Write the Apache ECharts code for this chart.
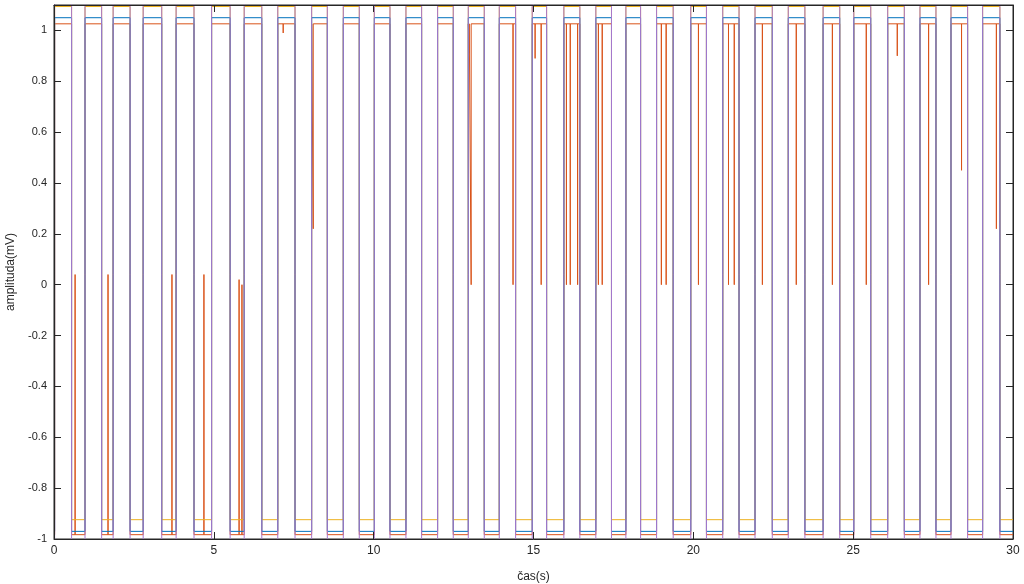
<!DOCTYPE html>
<html>
<head>
<meta charset="utf-8">
<script src="https://cdn.jsdelivr.net/npm/echarts@6/dist/echarts.min.js"></script>
<style>
html,body{margin:0;padding:0;background:#fff;}
#chart{width:1024px;height:584px;}
</style>
</head>
<body>
<div id="chart"></div>
<script>
// Pulse edges (s)
const riseTimes = [0.02, 0.97, 1.85, 2.79, 3.82, 4.93, 5.95, 7.00, 8.06, 9.05, 10.02, 11.01, 12.00, 12.96, 13.93, 14.96, 15.95, 16.95, 17.89, 18.85, 19.92, 20.92, 21.93, 22.97, 24.06, 25.02, 26.08, 27.09, 28.06, 29.05];
const fallTimes = [0.55, 1.49, 2.38, 3.37, 4.38, 5.51, 6.50, 7.54, 8.55, 9.55, 10.51, 11.50, 12.49, 13.46, 14.44, 15.41, 16.45, 17.44, 18.35, 19.37, 20.41, 21.43, 22.47, 23.49, 24.58, 25.55, 26.60, 27.59, 28.58, 29.59];
const endTime = 30;

// Levels (mV) for each signal: [high, low]
const yellowLevels = [1.094, -0.924];
const blueLevels = [1.05, -0.970];
const redLevels = [1.026, -0.983];
const purpleLevels = [1.12, -1.02];   // its flat parts lie at/outside the frame; only its edges show

// Red glitches: upward spikes during low phase
const redUpTimes = [0.66, 1.69, 3.69, 4.69, 5.79, 5.88];
const redUpValues = [0.04, 0.04, 0.04, 0.04, 0.02, 0.0];
// Red glitches: downward spikes during high phase
const redDownTimes = [7.17, 8.11, 12.99, 13.05, 14.36, 15.05, 15.24, 16.03, 16.15, 16.38, 17.03, 17.15, 19.00, 19.15, 20.16, 21.10, 21.28, 22.16, 23.22, 24.35, 25.41, 26.38, 27.36, 28.39, 29.48];
const redDownValues = [0.99, 0.22, 0.91, 0.0, 0.0, 0.89, 0.0, 0.0, 0.0, 0.0, 0.0, 0.0, 0.0, 0.0, 0.0, 0.0, 0.0, 0.0, 0.0, 0.0, 0.0, 0.9, 0.0, 0.45, 0.22];

// Axis ticks
const xTicks = [0, 5, 10, 15, 20, 25, 30];
const yTicks = [-1, -0.8, -0.6, -0.4, -0.2, 0, 0.2, 0.4, 0.6, 0.8, 1];

function buildWave(levels, upT, upV, downT, downV) {
  const hi = levels[0], lo = levels[1];
  const pts = [];
  const spikes = [];
  (upT || []).forEach((t, i) => spikes.push({t: t, v: upV[i]}));
  (downT || []).forEach((t, i) => spikes.push({t: t, v: downV[i]}));
  spikes.sort((a, b) => a.t - b.t);
  let si = 0;
  function addSpikesUntil(tEnd, level) {
    while (si < spikes.length && spikes[si].t < tEnd) {
      const s = spikes[si];
      pts.push([s.t, level], [s.t, s.v], [s.t, level]);
      si++;
    }
  }
  pts.push([riseTimes[0], lo]);
  for (let i = 0; i < riseTimes.length; i++) {
    pts.push([riseTimes[i], hi]);
    addSpikesUntil(fallTimes[i], hi);
    pts.push([fallTimes[i], hi]);
    pts.push([fallTimes[i], lo]);
    const next = i + 1 < riseTimes.length ? riseTimes[i + 1] : endTime;
    addSpikesUntil(next, lo);
    pts.push([next, lo]);
  }
  return pts;
}

const purpleData = buildWave(purpleLevels);
const yellowData = buildWave(yellowLevels);
const blueData = buildWave(blueLevels);
const redData = buildWave(redLevels, redUpTimes, redUpValues, redDownTimes, redDownValues);

const axisColor = '#262626';
const fontFam = 'Liberation Sans, Arial, Helvetica, sans-serif';

function lineSeries(data, color, z) {
  return {
    type: 'line', data: data, showSymbol: false, symbol: 'none', clip: true,
    lineStyle: {color: color, width: 1}, itemStyle: {color: color},
    z: z, animation: false, silent: true
  };
}

const chart = echarts.init(document.getElementById('chart'), null, {renderer: 'canvas'});
chart.setOption({
  backgroundColor: '#fff',
  animation: false,
  grid: {left: 54, right: 11, top: 5, bottom: 45, containLabel: false, outerBoundsMode: 'none',
    show: true, borderColor: axisColor, borderWidth: 1, backgroundColor: 'transparent'},
  xAxis: [{
    type: 'value', min: xTicks[0], max: xTicks[xTicks.length - 1], interval: 5,
    name: 'čas(s)', nameLocation: 'middle', nameGap: 32,
    nameTextStyle: {color: axisColor, fontSize: 12, fontFamily: fontFam},
    axisLine: {show: true, onZero: false, lineStyle: {color: axisColor, width: 1}},
    axisTick: {show: true, inside: true, length: 7, lineStyle: {color: axisColor}},
    axisLabel: {color: axisColor, fontSize: 12, fontFamily: fontFam, margin: 6},
    splitLine: {show: false}, z: 10
  }, {
    type: 'value', position: 'top', min: 0, max: 30, interval: 5,
    axisLine: {show: true, onZero: false, lineStyle: {color: axisColor, width: 1}},
    axisTick: {show: true, inside: true, length: 7, lineStyle: {color: axisColor}},
    axisLabel: {show: false}, splitLine: {show: false}, z: 10
  }],
  yAxis: [{
    type: 'value', min: yTicks[0], max: 1.1, interval: 0.2,
    name: 'amplituda(mV)', nameLocation: 'middle', nameGap: 22,
    nameTextStyle: {color: axisColor, fontSize: 12, fontFamily: fontFam},
    axisLine: {show: true, onZero: false, lineStyle: {color: axisColor, width: 1}},
    axisTick: {show: true, inside: true, length: 7, lineStyle: {color: axisColor}},
    axisLabel: {color: axisColor, fontSize: 11, fontFamily: fontFam, margin: 7, showMaxLabel: false,
      formatter: function (v) { return yTicks.some(t => Math.abs(t - v) < 1e-9) ? String(Math.round(v * 10) / 10) : ''; }},
    splitLine: {show: false}, z: 10
  }, {
    type: 'value', position: 'right', min: -1, max: 1.1, interval: 0.2,
    axisLine: {show: true, onZero: false, lineStyle: {color: axisColor, width: 1}},
    axisTick: {show: true, inside: true, length: 7, lineStyle: {color: axisColor}},
    axisLabel: {show: false}, splitLine: {show: false}, z: 10
  }],
  series: [
    lineSeries(redData, '#D95319', 1),
    lineSeries(yellowData, '#EDB120', 2),
    lineSeries(blueData, '#0072BD', 3),
    lineSeries(purpleData, '#A878CC', 4)
  ]
});
</script>
</body>
</html>
